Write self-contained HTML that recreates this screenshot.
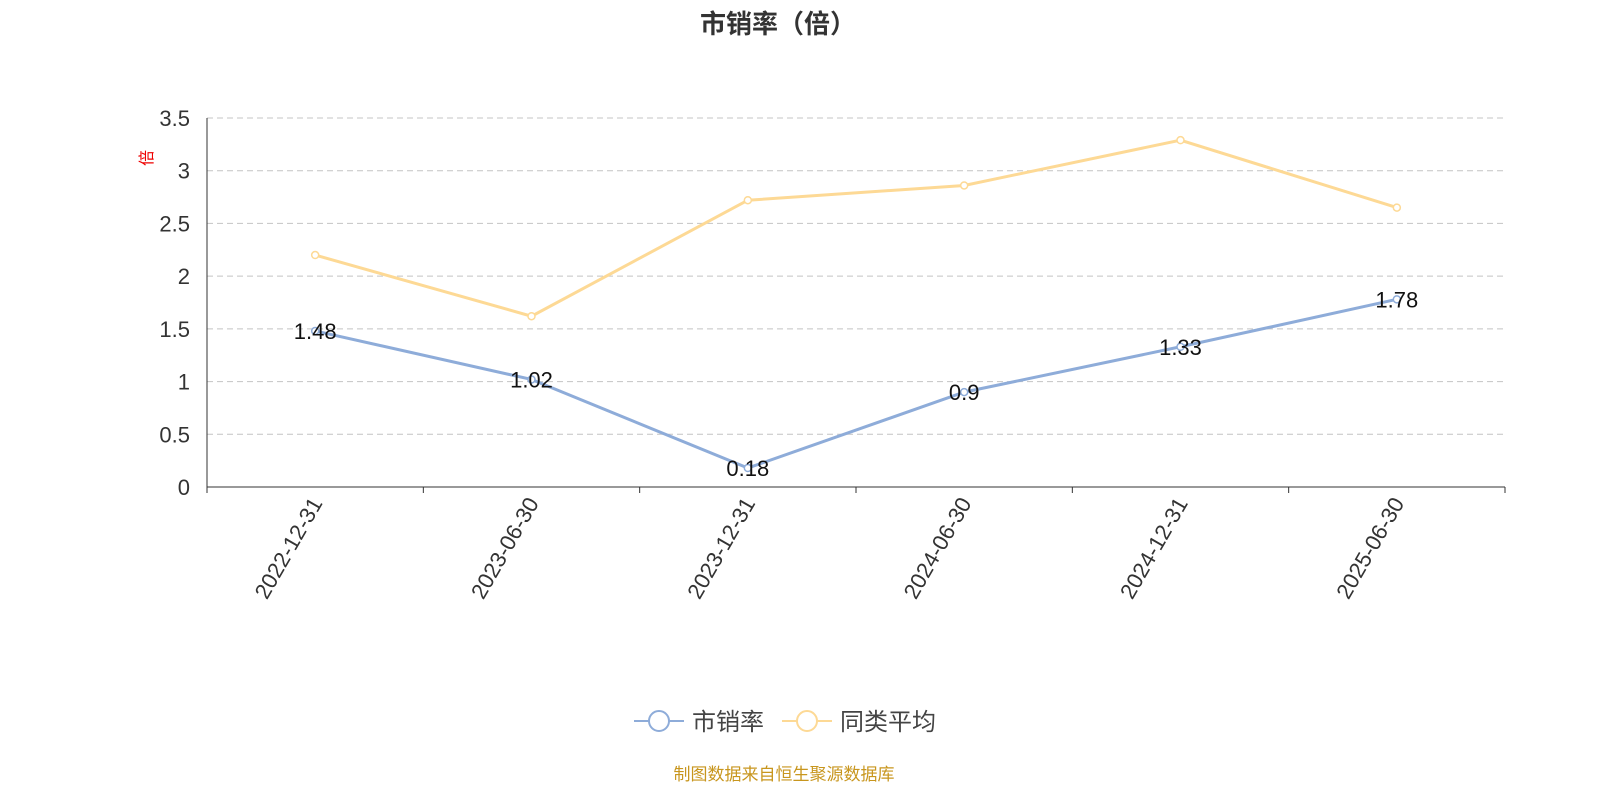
<!DOCTYPE html>
<html><head><meta charset="utf-8"><style>
body{margin:0;background:#fff;width:1600px;height:800px;overflow:hidden}
svg text{font-family:"Liberation Sans","Noto Sans CJK SC",sans-serif}
</style></head><body>
<svg id="chart" width="1600" height="800">
<text x="778" y="33" text-anchor="middle" font-size="26" font-weight="bold" fill="#333">市销率（倍）</text>
<text x="0" y="0" transform="translate(152,158) rotate(-90)" text-anchor="middle" font-size="16" fill="#e00">倍</text>
<g id="grid"></g><g id="axes"></g><g id="series"></g>
<g>
<g><line x1="634" y1="721" x2="684" y2="721" stroke="#8eacd9" stroke-width="2"/><circle cx="659" cy="721" r="10" fill="#fff" stroke="#8eacd9" stroke-width="2"/><text x="692" y="730" font-size="24" fill="#444">市销率</text></g>
<g><line x1="782" y1="721" x2="832" y2="721" stroke="#fdd995" stroke-width="2"/><circle cx="807" cy="721" r="10" fill="#fff" stroke="#fdd995" stroke-width="2"/><text x="840" y="730" font-size="24" fill="#444">同类平均</text></g>
</g>
<text x="784" y="780" text-anchor="middle" font-size="17" fill="#c8961e">制图数据来自恒生聚源数据库</text>
</svg>
<script>
const categories=["2022-12-31","2023-06-30","2023-12-31","2024-06-30","2024-12-31","2025-06-30"];
const psrValues=[1.48,1.02,0.18,0.9,1.33,1.78];
const avgValues=[2.2,1.62,2.72,2.86,3.29,2.65];
const yTicks=[0,0.5,1,1.5,2,2.5,3,3.5];
const NS="http://www.w3.org/2000/svg";
const x0=207,x1=1505,y0=487,y1=118,yMax=3.5;
const bw=(x1-x0)/categories.length;
const xs=i=>x0+bw*(i+0.5);
const ys=v=>y0-(v/yMax)*(y0-y1);
function mk(tag,attrs,parent){const e=document.createElementNS(NS,tag);for(const k in attrs)e.setAttribute(k,attrs[k]);parent.appendChild(e);return e;}
const grid=document.getElementById('grid'),axes=document.getElementById('axes'),ser=document.getElementById('series');
yTicks.forEach(t=>{
 const y=ys(t);
 if(t>0){const g=mk('line',{x1:x0,x2:x1,y1:y,y2:y,stroke:'#c4c4c4','stroke-dasharray':'6,4'},grid);
 
 }
 const tx=mk('text',{x:190,y:y+8,'text-anchor':'end','font-size':22,fill:'#333'},axes);tx.textContent=t;
 
 
});
const ya=mk('line',{x1:x0,x2:x0,y1:y1,y2:y0,stroke:'#333'},axes);


const xa=mk('line',{x1:x0,x2:x1,y1:y0,y2:y0,stroke:'#333'},axes);


for(let i=0;i<=categories.length;i++){const x=x0+bw*i;mk('line',{x1:x,x2:x,y1:y0,y2:y0+6,stroke:'#333'},axes);}
categories.forEach((c,i)=>{
 const x=xs(i);
 const t=mk('text',{x:0,y:0,transform:`translate(${x+8},${y0+16}) rotate(-60)`,'text-anchor':'end','font-size':22,fill:'#333'},axes);t.textContent=c;
 
 
});
function series(vals,color,name,labels){
 const p=mk('polyline',{points:vals.map((v,i)=>xs(i)+','+ys(v)).join(' '),fill:'none',stroke:color,'stroke-width':3},ser);
 
 
 vals.forEach((v,i)=>{
  const c=mk('circle',{cx:xs(i),cy:ys(v),r:3.5,fill:'#fff',stroke:color,'stroke-width':1.5},ser);
  
  
  if(labels){const t=mk('text',{x:xs(i),y:ys(v)+8,'text-anchor':'middle','font-size':22,fill:'#111'},ser);t.textContent=v;
  
  }
 });
}
series(avgValues,'#fdd995','peer-avg',false);
series(psrValues,'#8eacd9','psr',true);
</script>
</body></html>
